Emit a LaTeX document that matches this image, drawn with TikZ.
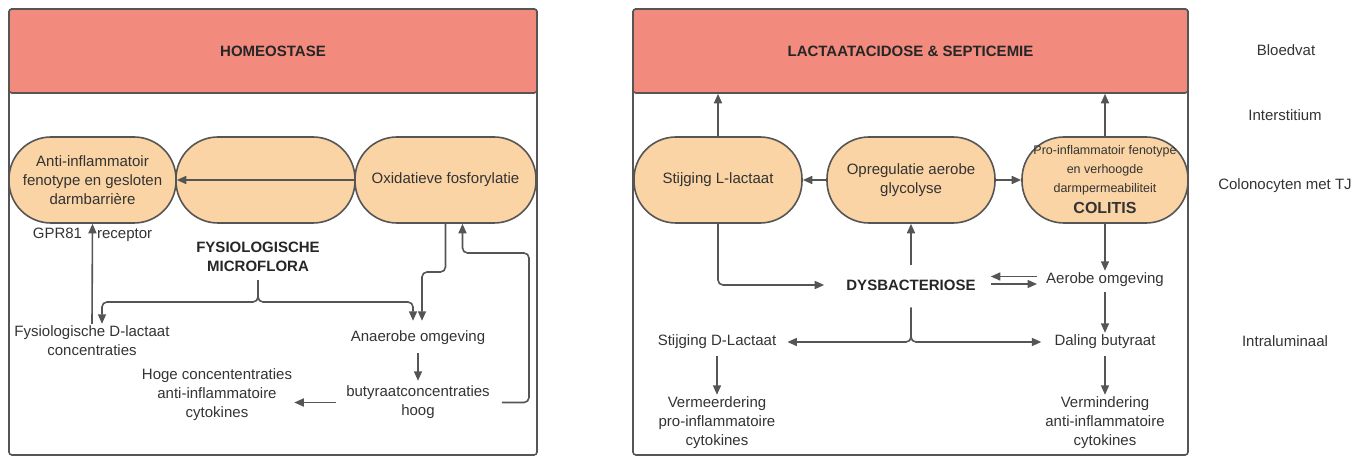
\documentclass[tikz,border=0pt]{standalone}
\usepackage{fontspec}
\setmainfont{Liberation Sans}
\usetikzlibrary{arrows.meta}
\definecolor{hdr}{HTML}{F28B7E}
\definecolor{peach}{HTML}{FAD4A4}
\definecolor{lnc}{HTML}{555555}
\definecolor{tx}{HTML}{333333}
\begin{document}
\begin{tikzpicture}[x=1pt,y=-1pt,
  font=\fontsize{15}{19}\selectfont, text=tx,
  every node/.style={inner sep=2pt},
  lbl/.style={align=center},
  bold/.style={align=center, font=\fontsize{15}{19}\selectfont\bfseries, text=black!85},
  stadium/.style={draw=lnc, line width=1.6pt, fill=peach, rounded corners=42pt, minimum height=86pt, align=center, inner sep=0pt},
  header/.style={draw=lnc, line width=1.6pt, fill=hdr, rounded corners=3pt, font=\fontsize{15}{18}\selectfont\bfseries, text=black!85},
  frame/.style={draw=lnc, line width=1.6pt, rounded corners=3pt},
  conn/.style={draw=lnc, line width=1.6pt},
  arr/.style={conn, -{Triangle[length=9.5pt,width=8pt]}}]
\useasboundingbox (0,0) rectangle (1369,457);

% ---------- left panel ----------
\draw[frame] (9,9) rectangle (537,455);
\node[header, minimum width=528pt, minimum height=84pt] (h1) at (273,51) {HOMEOSTASE};
\node[stadium, minimum width=167pt] (b1) at (92.5,180) {Anti-inflammatoir\\fenotype en gesloten\\darmbarrière};
\node[stadium, minimum width=179pt] (b2) at (265.5,180) {};
\node[stadium, minimum width=181pt] (b3) at (445.5,180) {Oxidatieve fosforylatie};
\draw[arr] (b3.west) -- (b1.east);

\node[lbl] (gpr) at (92.5,235) {GPR81\hspace{15pt}receptor};
\node[bold] (fm) at (258,257) {FYSIOLOGISCHE\\MICROFLORA};
\node[lbl] (fd) at (92,341) {Fysiologische D-lactaat\\concentraties};
\node[lbl] (ao) at (418,338) {Anaerobe omgeving};
\node[lbl] (bh) at (418,402.5) {butyraatconcentraties\\hoog};
\node[lbl] (hc) at (217,395) {Hoge concententraties\\anti-inflammatoire\\cytokines};

\coordinate (j1) at (258,302);
\coordinate (k1) at (446,272);
\coordinate (r1) at (529,253);

\draw[arr] (fd.north) -- (b1.south);
\draw[arr, rounded corners=5pt, shorten <=6pt] (fm.south) |- ([xshift=10pt]fd.north |- j1) -- ([xshift=10pt]fd.north);
\draw[arr, rounded corners=5pt, shorten <=6pt, shorten >=8pt] (fm.south) |- ([xshift=-5pt]ao.north |- j1) -- ([xshift=-5pt]ao.north);
\draw[arr, rounded corners=5pt, shorten >=8pt] (b3.south) -- (b3.south |- k1) -| ([xshift=4pt]ao.north);
\draw[arr, shorten <=6pt, shorten >=3pt] (ao.south) -- (bh.north);
\draw[arr] ([xshift=-8pt]bh.west) -- (bh.west -| hc.east);
\draw[arr, rounded corners=5pt, shorten <=10pt] (bh.east) -| (r1) -| ([xshift=17pt]b3.south);

% ---------- right panel ----------
\draw[frame] (633,9) rectangle (1188,455);
\node[header, minimum width=555pt, minimum height=84pt] (h2) at (910.5,51) {LACTAATACIDOSE \& SEPTICEMIE};
\node[stadium, minimum width=168pt] (A) at (718,180) {Stijging L-lactaat};
\node[stadium, minimum width=168pt] (B) at (911,180) {Opregulatie aerobe\\glycolyse};
\node[stadium, minimum width=166pt] (C) at (1105,180) {\fontsize{12.5}{13.5}\selectfont Pro-inflammatoir fenotype\\\fontsize{12.5}{13.5}\selectfont en verhoogde\\\fontsize{12.5}{13.5}\selectfont darmpermeabiliteit\\[2pt]\fontsize{16}{18}\selectfont\bfseries COLITIS};

\node[bold] (dys) at (911,285) {DYSBACTERIOSE};
\node[lbl] (sd) at (717,342) {Stijging D-Lactaat};
\node[lbl] (vp) at (717,423) {Vermeerdering\\pro-inflammatoire\\cytokines};
\node[lbl] (ae) at (1105,280) {Aerobe omgeving};
\node[lbl] (db) at (1105,342) {Daling butyraat};
\node[lbl] (vm) at (1105,423) {Vermindering\\anti-inflammatoire\\cytokines};

\draw[arr] (A.north) -- (A.north |- h2.south);
\draw[arr] (C.north) -- (C.north |- h2.south);
\draw[arr] (B.west) -- (A.east);
\draw[arr] (B.east) -- (C.west);
\draw[arr, rounded corners=5pt, shorten >=20pt] (A.south) |- (dys.west);
\draw[arr] ([yshift=12pt]dys.north) -- (B.south);
\draw[arr, rounded corners=5pt, shorten <=15pt, shorten >=9pt] (dys.south) |- (sd.east);
\draw[arr, rounded corners=5pt, shorten <=15pt, shorten >=11pt] (dys.south) |- (db.west);
\draw[arr, shorten <=5pt] (sd.south) -- (vp.north);
\draw[arr] (C.south) -- (ae.north);
\draw[arr, shorten <=7pt, shorten >=13pt] ([yshift=3.5pt]ae.west) -- ([yshift=3.5pt]ae.west -| dys.east);
\draw[arr, shorten <=13pt, shorten >=7pt] ([yshift=-4pt]ae.west -| dys.east) -- ([yshift=-4pt]ae.west);
\draw[arr, shorten <=3pt] (ae.south) -- (db.north);
\draw[arr, shorten <=5pt] (db.south) -- (vm.north);

% ---------- layer labels ----------
\node[lbl] (l1) at (1286,50) {Bloedvat};
\node[lbl] (l2) at (1285,115) {Interstitium};
\node[lbl] (l3) at (1285,186) {Colonocyten met TJ};
\node[lbl] (l4) at (1285,341) {Intraluminaal};
\end{tikzpicture}
\end{document}
